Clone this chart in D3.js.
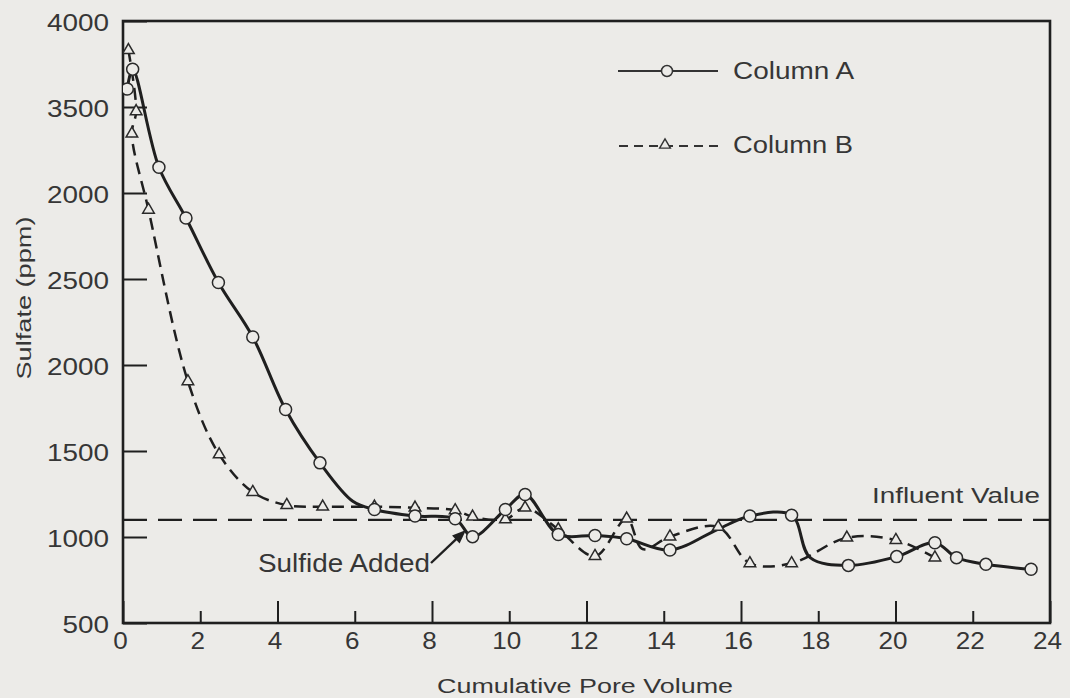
<!DOCTYPE html>
<html>
<head>
<meta charset="utf-8">
<script src="https://cdn.jsdelivr.net/npm/d3@7/dist/d3.min.js"></script>
<style>
  html, body { margin: 0; padding: 0; background: #ecebe8; }
  svg { display: block; }
  text { font-family: "Liberation Sans", Arial, sans-serif; fill: #363636; }
</style>
</head>
<body>
<svg id="chart" width="1070" height="698"></svg>
<script>
// ---------------- DATA ----------------
// Column A (solid line, circles). Marker flag 0 = line shape point (no symbol)
const colAPore    = [0.11, 0.25, 0.93, 1.63, 2.47, 3.36, 4.21, 5.10, 5.95, 6.51, 7.56, 8.60, 9.05, 9.90, 10.41, 11.27, 12.22, 13.04, 14.16, 15.40, 16.23, 17.31, 17.79, 18.78, 20.03, 21.02, 21.58, 22.34, 23.51];
const colASulfate = [3605, 3720, 3150, 2855, 2480, 2163, 1741, 1431, 1208, 1160, 1122, 1106, 1002, 1160, 1247, 1015, 1009, 990, 924, 1045, 1122, 1127, 880, 835, 886, 967, 880, 841, 812];
const colAMarker  = [1, 1, 1, 1, 1, 1, 1, 1, 0, 1, 1, 1, 1, 1, 1, 1, 1, 1, 1, 0, 1, 1, 0, 1, 1, 1, 1, 1, 1];

// Column B (dashed line, triangles)
const colBPore    = [0.14, 0.34, 0.23, 0.66, 1.68, 2.49, 3.36, 4.24, 5.17, 6.51, 7.56, 8.60, 9.05, 9.90, 10.41, 11.27, 12.22, 13.04, 13.45, 14.16, 15.41, 16.23, 17.31, 18.74, 20.01, 21.02];
const colBSulfate = [3830, 3475, 3345, 2902, 1905, 1480, 1261, 1185, 1176, 1176, 1170, 1155, 1118, 1102, 1170, 1044, 889, 1106, 930, 1002, 1058, 847, 847, 996, 982, 880];
const colBMarker  = [1, 1, 1, 1, 1, 1, 1, 1, 1, 1, 1, 1, 1, 1, 1, 1, 1, 1, 0, 1, 1, 1, 1, 1, 1, 1];

const influentValue = 1100;

const xTickValues = [0, 2, 4, 6, 8, 10, 12, 14, 16, 18, 20, 22, 24];
const xTickLabels = ["0", "2", "4", "6", "8", "10", "12", "14", "16", "18", "20", "22", "24"];
const yTickValues = [4000, 3500, 3000, 2500, 2000, 1500, 1000, 500];
const yTickLabels = ["4000", "3500", "2000", "2500", "2000", "1500", "1000", "500"];

const seriesNames = ["Column A", "Column B"];
const xTitle = "Cumulative Pore Volume";
const yTitle = "Sulfate (ppm)";
const influentLabel = "Influent Value";
const sulfideLabel = "Sulfide Added";

// ---------------- DRAW ----------------
const svg = d3.select("#chart");
const ink = "#1f1f1f";
const paper = "#ecebe8";

const x = d3.scaleLinear().domain([0, 24]).range([123, 1050]);
const y = d3.scaleLinear().domain([500, 4000]).range([623, 21]);

const colA = colAPore.map((p, i) => ({ x: p, y: colASulfate[i], m: colAMarker[i] }));
const colB = colBPore.map((p, i) => ({ x: p, y: colBSulfate[i], m: colBMarker[i] }));

svg.append("defs").append("clipPath").attr("id", "plotclip")
  .append("rect").attr("x", x(0)).attr("y", y(4000)).attr("width", x(24) - x(0)).attr("height", y(500) - y(4000));

// Y axis (ticks inward)
const yAxis = svg.append("g").attr("transform", `translate(${x(0)},0)`)
  .call(d3.axisLeft(y).tickValues(yTickValues)
    .tickFormat((d, i) => yTickLabels[i])
    .tickSizeInner(-24).tickSizeOuter(0).tickPadding(14));
yAxis.select(".domain").remove();
yAxis.selectAll(".tick line").attr("stroke", ink).attr("stroke-width", 2);
yAxis.selectAll(".tick text")
  .style("font-size", "23px").attr("fill", "#363636").attr("dy", "0.4em")
  .attr("textLength", d => String(yTickLabels[yTickValues.indexOf(d)]).length * 15.5)
  .attr("lengthAdjust", "spacingAndGlyphs");

// X axis (ticks inward, long / short)
const xAxis = svg.append("g").attr("transform", `translate(0,${y(500)})`)
  .call(d3.axisBottom(x).tickValues(xTickValues)
    .tickFormat((d, i) => xTickLabels[i])
    .tickSizeInner(-22).tickSizeOuter(0).tickPadding(10));
xAxis.select(".domain").remove();
xAxis.selectAll(".tick line").attr("stroke", ink).attr("stroke-width", 2)
  .attr("y2", d => (d % 4 === 0 ? -22 : -12));
xAxis.selectAll(".tick text")
  .style("font-size", "23px").attr("fill", "#363636")
  .attr("dx", "-3px")
  .attr("textLength", d => String(d).length * 14.5)
  .attr("lengthAdjust", "spacingAndGlyphs");

// Frame
svg.append("rect")
  .attr("x", x(0)).attr("y", y(4000))
  .attr("width", x(24) - x(0)).attr("height", y(500) - y(4000))
  .attr("fill", "none").attr("stroke", ink).attr("stroke-width", 2.6);

const plot = svg.append("g").attr("clip-path", "url(#plotclip)");

plot.append("line")
  .attr("x1", x(0)).attr("x2", x(24))
  .attr("y1", y(influentValue)).attr("y2", y(influentValue))
  .attr("stroke", ink).attr("stroke-width", 2.2)
  .attr("stroke-dasharray", "24,11");

const line = d3.line().x(d => x(d.x)).y(d => y(d.y)).curve(d3.curveCatmullRom.alpha(0.5));

plot.append("path").datum(colB)
  .attr("d", line).attr("fill", "none")
  .attr("stroke", ink).attr("stroke-width", 2.5)
  .attr("stroke-dasharray", "12,7");

plot.append("path").datum(colA)
  .attr("d", line).attr("fill", "none")
  .attr("stroke", ink).attr("stroke-width", 3);

const tri = d3.symbol().type(d3.symbolTriangle).size(58);
plot.selectAll(".triB").data(colB.filter(d => d.m)).join("path")
  .attr("class", "triB")
  .attr("transform", d => `translate(${x(d.x)},${y(d.y)})`)
  .attr("d", tri).attr("fill", paper).attr("stroke", "#2a2a2a").attr("stroke-width", 1.5);

plot.selectAll(".cirA").data(colA.filter(d => d.m)).join("circle")
  .attr("class", "cirA")
  .attr("cx", d => x(d.x)).attr("cy", d => y(d.y)).attr("r", 6)
  .attr("fill", paper).attr("stroke", "#2a2a2a").attr("stroke-width", 1.5);

// Axis titles
svg.append("text")
  .attr("x", 585).attr("y", 693).attr("text-anchor", "middle")
  .style("font-size", "20px")
  .attr("textLength", 296).attr("lengthAdjust", "spacingAndGlyphs")
  .text(xTitle);

svg.append("text")
  .attr("transform", "translate(31,298) rotate(-90)")
  .attr("text-anchor", "middle")
  .style("font-size", "20px")
  .attr("textLength", 163).attr("lengthAdjust", "spacingAndGlyphs")
  .text(yTitle);

// Legend
const legend = svg.append("g");
legend.append("line").attr("x1", 618).attr("x2", 718).attr("y1", 71).attr("y2", 71)
  .attr("stroke", "#333").attr("stroke-width", 2.2);
legend.append("circle").attr("cx", 667).attr("cy", 71).attr("r", 5.5)
  .attr("fill", paper).attr("stroke", "#333").attr("stroke-width", 1.5);
legend.append("text").attr("x", 733).attr("y", 79)
  .style("font-size", "23px").attr("textLength", 121).attr("lengthAdjust", "spacingAndGlyphs")
  .text(seriesNames[0]);

legend.append("line").attr("x1", 619).attr("x2", 723).attr("y1", 146).attr("y2", 146)
  .attr("stroke", "#333").attr("stroke-width", 2.2).attr("stroke-dasharray", "9,6");
legend.append("path").attr("transform", "translate(665,145)")
  .attr("d", d3.symbol().type(d3.symbolTriangle).size(50)())
  .attr("fill", paper).attr("stroke", "#333").attr("stroke-width", 1.4);
legend.append("text").attr("x", 733).attr("y", 153)
  .style("font-size", "23px").attr("textLength", 120).attr("lengthAdjust", "spacingAndGlyphs")
  .text(seriesNames[1]);

// Annotations
svg.append("text").attr("x", 872).attr("y", 503)
  .style("font-size", "22px").attr("textLength", 168).attr("lengthAdjust", "spacingAndGlyphs")
  .text(influentLabel);

svg.append("text").attr("x", 258).attr("y", 572)
  .style("font-size", "25px").attr("textLength", 172).attr("lengthAdjust", "spacingAndGlyphs")
  .text(sulfideLabel);

const ax1 = 431, ay1 = 563, ax2 = 466, ay2 = 530;
const ang = Math.atan2(ay2 - ay1, ax2 - ax1);
svg.append("line").attr("x1", ax1).attr("y1", ay1)
  .attr("x2", ax2 - 8 * Math.cos(ang)).attr("y2", ay2 - 8 * Math.sin(ang))
  .attr("stroke", ink).attr("stroke-width", 2.4);
const hl = 14, hw = 5.5;
const bx = ax2 - hl * Math.cos(ang), by = ay2 - hl * Math.sin(ang);
svg.append("path")
  .attr("d", `M${ax2},${ay2} L${bx + hw * Math.sin(ang)},${by - hw * Math.cos(ang)} L${bx - hw * Math.sin(ang)},${by + hw * Math.cos(ang)} Z`)
  .attr("fill", ink);
</script>
</body>
</html>
